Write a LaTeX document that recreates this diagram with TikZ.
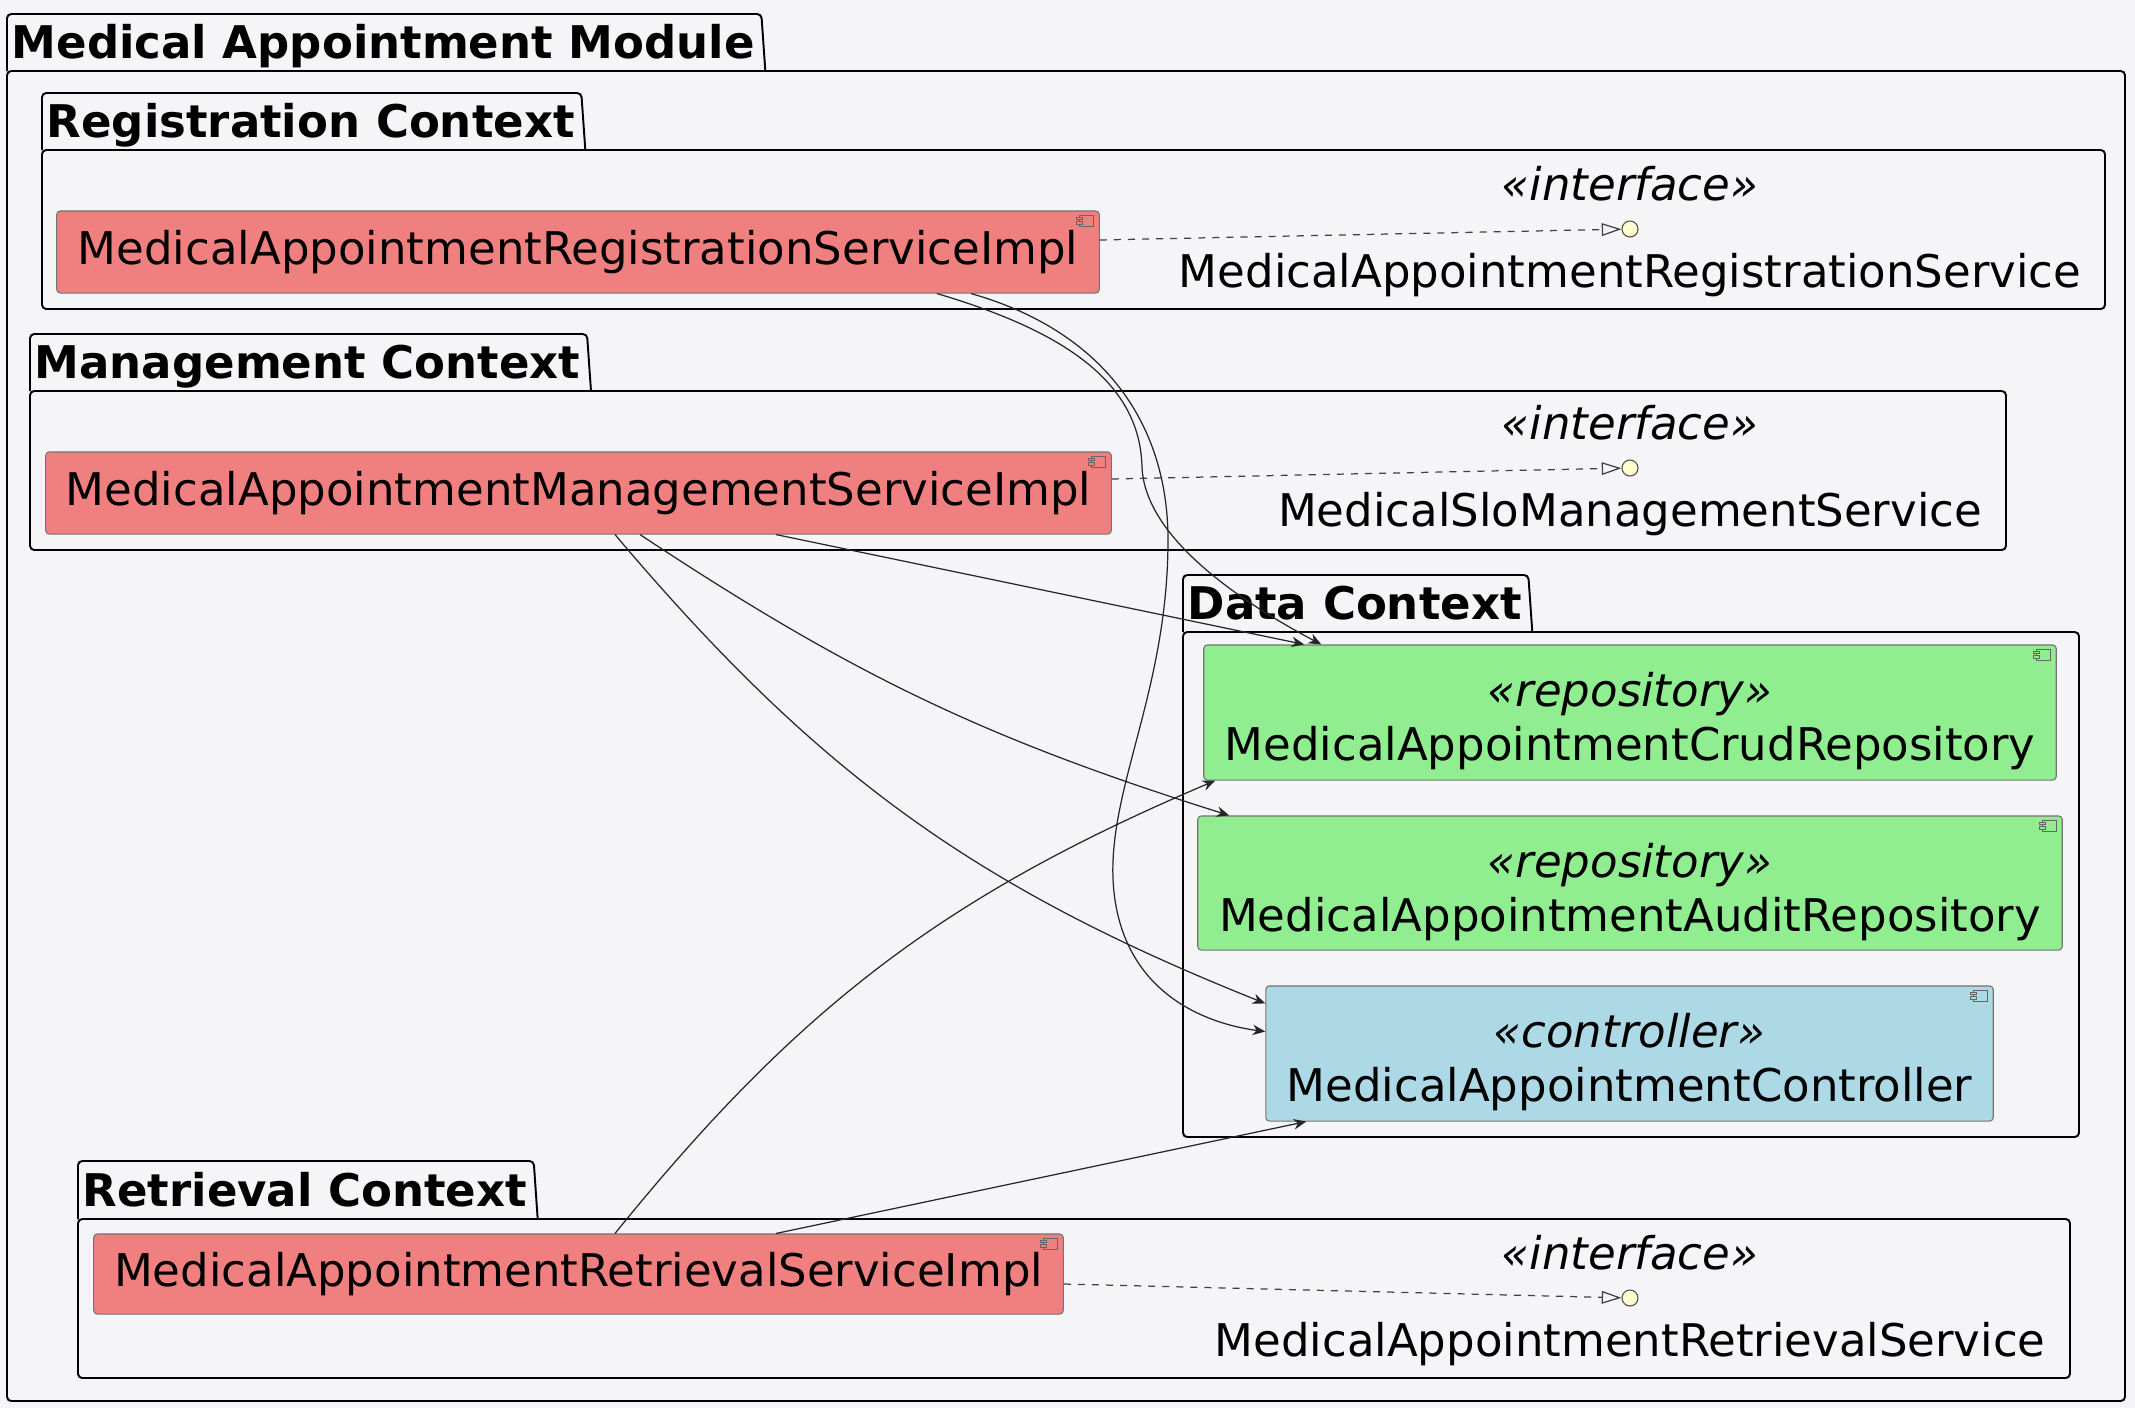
\documentclass[tikz,border=0pt]{standalone}
\usepackage{fontspec}
\setmainfont{DejaVu Sans}
\usetikzlibrary{arrows.meta,positioning}
\definecolor{bgcol}{HTML}{F5F5F8}
\definecolor{implred}{HTML}{F08080}
\definecolor{repogreen}{HTML}{90EE90}
\definecolor{ctrlblue}{HTML}{ADD8E6}
\definecolor{ifacefill}{HTML}{FEFECE}
\newcommand\stereo[1]{{\itshape\rule{0pt}{14.8pt}«#1»}}
\tikzset{
  pkg/.style={draw=black,line width=0.55pt,rounded corners=1.2pt},
  pkgtitle/.style={font=\bfseries,inner sep=0pt},
  compbox/.style={draw=black!55,line width=0.3pt,rounded corners=1pt,inner sep=0pt,align=center},
  impl/.style={compbox,fill=implred},
  repo/.style={compbox,fill=repogreen},
  ctrlbox/.style={compbox,fill=ctrlblue},
  icon/.style={draw=black!60,line width=0.3pt},
  iface/.style={circle,draw=black!70,fill=ifacefill,line width=0.3pt,minimum size=0.16cm,inner sep=0pt},
  use/.style={->,line width=0.35pt,black!85},
  realize/.style={-{Triangle[open,length=5.6pt,width=3.6pt]},dash pattern=on 2pt off 2pt,line width=0.35pt,black!75}
}
\begin{document}
\fontsize{12.8}{15.4}\selectfont
\begin{tikzpicture}[>={Stealth[length=3.6pt,width=3pt]},x=0.01cm,y=-0.01cm]
	\useasboundingbox[fill=bgcol] (0,0) rectangle (2135,1408);
	\foreach \i/\l/\tt/\tb/\r/\b/\name in {mod/7/14/71/2125/1401/Medical Appointment Module,
		regp/42/93/150/2105/309/Registration Context,
		mgmtp/30/334/391/2006/550/Management Context,
		datap/1183/575/632/2079/1137/Data Context,
		retp/78/1161/1219/2070/1378/Retrieval Context}{
		\node[pkgtitle,anchor=base west] (t\i) at (\l+4,\tb-13) {\name};
		\coordinate (a\i) at (\l,\tt);
		\coordinate (c\i) at (\l,\tb);
		\path (t\i.east) ++(6,0) coordinate (e\i);
		\path (e\i |- c\i) ++(4,0) coordinate (f\i);
		\draw[pkg] (c\i) -- (a\i) -- (e\i |- a\i) -- (f\i);
		\draw[pkg] (c\i) rectangle (\r,\b);
	}
	\node[impl,minimum width=10.42cm,minimum height=0.82cm] (reg) at (578,252) {MedicalAppointmentRegistrationServiceImpl};
	\node[impl,minimum width=10.65cm,minimum height=0.82cm] (mgmt) at (578.5,493) {MedicalAppointmentManagementServiceImpl};
	\node[impl,minimum width=9.69cm,minimum height=0.80cm] (ret) at (578.5,1274) {MedicalAppointmentRetrievalServiceImpl};
	\node[repo,minimum width=8.52cm,minimum height=1.35cm] (crud) at (1630,712.5) {\stereo{repository}\\MedicalAppointmentCrudRepository};
	\node[repo,minimum width=8.64cm,minimum height=1.34cm] (audit) at (1630,883) {\stereo{repository}\\MedicalAppointmentAuditRepository};
	\node[ctrlbox,minimum width=7.27cm,minimum height=1.35cm] (ctrl) at (1629.5,1053.5) {\stereo{controller}\\MedicalAppointmentController};
	\foreach \n/\c in {reg/implred,mgmt/implred,ret/implred,crud/repogreen,audit/repogreen,ctrl/ctrlblue}{
		\draw[icon,fill=\c] ([shift={(-20,5)}]\n.north east) rectangle ([shift={(-6,16)}]\n.north east);
		\draw[icon,fill=\c] ([shift={(-23,7)}]\n.north east) rectangle ([shift={(-17,9.5)}]\n.north east);
		\draw[icon,fill=\c] ([shift={(-23,11.5)}]\n.north east) rectangle ([shift={(-17,14)}]\n.north east);
	}
	\node[iface] (ireg) at (1630,229) {};
	\node[above=0.04cm of ireg] (sreg) {\itshape «interface»};
	\node[below=0cm of ireg] (nreg) {MedicalAppointmentRegistrationService};
	\node[iface] (imgmt) at (1630,468) {};
	\node[above=0.04cm of imgmt] (smgmt) {\itshape «interface»};
	\node[below=0cm of imgmt] (nmgmt) {MedicalSloManagementService};
	\node[iface] (iret) at (1630,1298) {};
	\node[above=0.04cm of iret] (sret) {\itshape «interface»};
	\node[below=0cm of iret] (nret) {MedicalAppointmentRetrievalService};
	\draw[realize] ([yshift=0.12cm]reg.east) -- (ireg);
	\draw[realize] ([yshift=0.14cm]mgmt.east) -- (imgmt);
	\draw[realize] ([yshift=-0.1cm]ret.east) -- (iret);
	\draw[use] ([shift={(359,0)}]reg.south) .. controls (1060,330) and (1140,380) .. (1142,467) .. controls (1144,520) and (1200,580) .. ([shift={(118,0)}]crud.north west);
	\draw[use] ([shift={(393,0)}]reg.south) .. controls (1100,330) and (1168,420) .. (1168,540) .. controls (1168,700) and (1100,800) .. (1115,900) .. controls (1130,1000) and (1215,1025) .. ([shift={(0,-22)}]ctrl.west);
	\draw[use] ([shift={(197.5,0)}]mgmt.south) -- ([shift={(101,0)}]crud.north west);
	\draw[use] ([shift={(61.5,0)}]mgmt.south) to[bend right=8] ([shift={(32,0)}]audit.north west);
	\draw[use] ([shift={(36.5,0)}]mgmt.south) to[bend right=14] ([shift={(0,18)}]ctrl.north west);
	\draw[use] ([shift={(36.5,0)}]ret.north) to[bend left=14] ([shift={(12,0)}]crud.south west);
	\draw[use] ([shift={(197.5,0)}]ret.north) -- ([shift={(41,0)}]ctrl.south west);
\end{tikzpicture}
\end{document}
